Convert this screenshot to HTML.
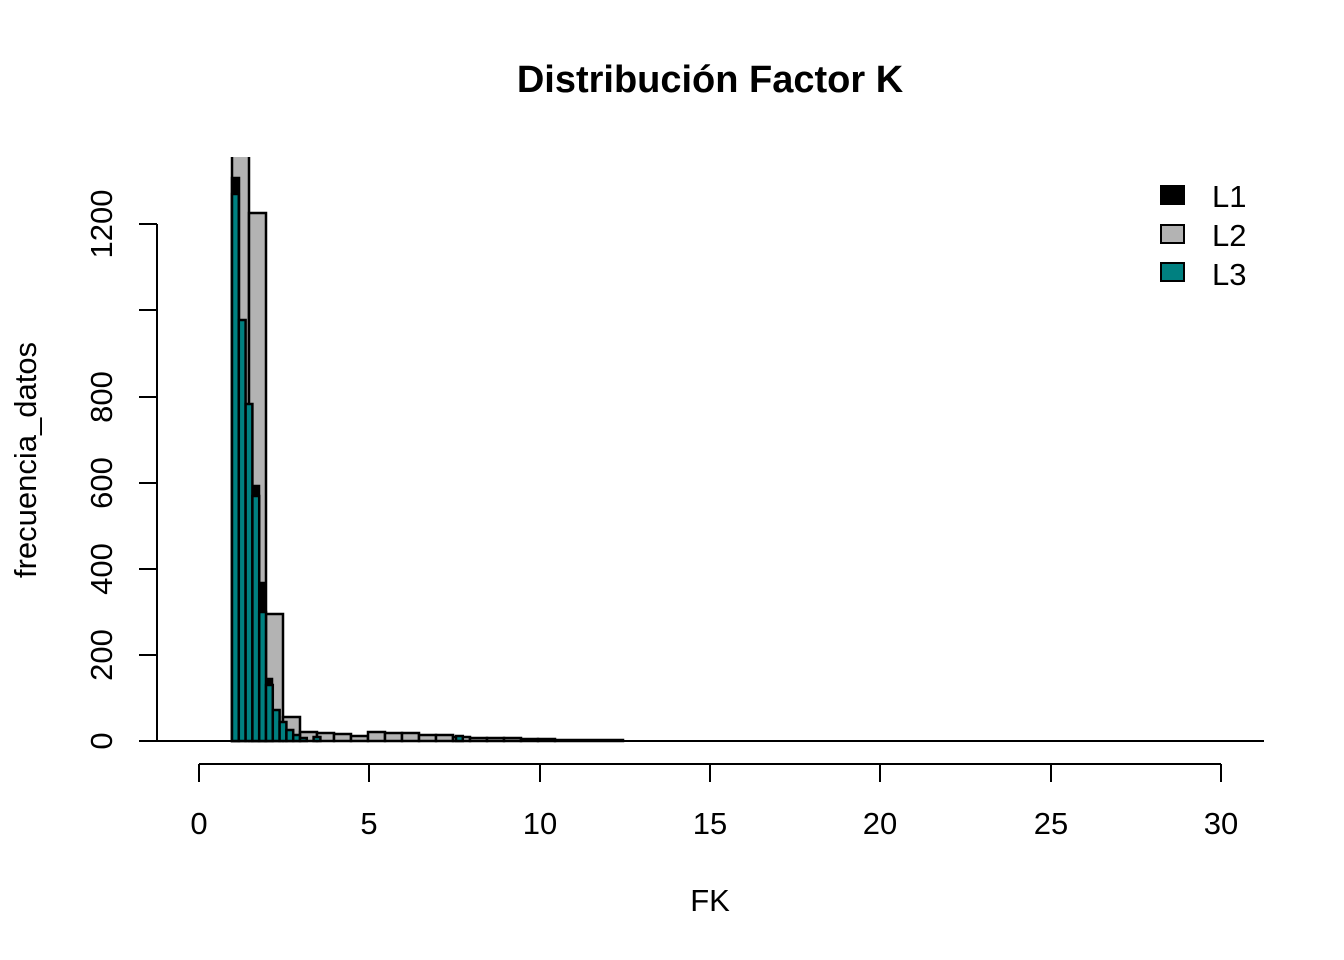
<!DOCTYPE html>
<html><head><meta charset="utf-8"><style>body{margin:0;background:#fff}svg{display:block}</style></head>
<body>
<svg width="1344" height="960" xmlns="http://www.w3.org/2000/svg" font-family="Liberation Sans, sans-serif">
<defs><clipPath id="c"><rect x="0" y="157" width="1344" height="700"/></clipPath></defs>
<text x="710" y="92" text-anchor="middle" font-size="38" font-weight="bold">Distribución Factor K</text>
<g stroke="#000" stroke-width="2.5" clip-path="url(#c)">
<g fill="#b3b3b3">
<rect x="232" y="140" width="17" height="601"/>
<rect x="249" y="213" width="17" height="528"/>
<rect x="266" y="614" width="17" height="127"/>
<rect x="283" y="717" width="17" height="24"/>
<rect x="300" y="732" width="17" height="9"/>
<rect x="317" y="733" width="17" height="8"/>
<rect x="334" y="734" width="17" height="7"/>
<rect x="351" y="736" width="17" height="5"/>
<rect x="368" y="732" width="17" height="9"/>
<rect x="385" y="733" width="17" height="8"/>
<rect x="402" y="733" width="17" height="8"/>
<rect x="419" y="735" width="17" height="6"/>
<rect x="436" y="735" width="17" height="6"/>
<rect x="453" y="737" width="17" height="4"/>
<rect x="470" y="738" width="17" height="3"/>
<rect x="487" y="738" width="17" height="3"/>
<rect x="504" y="738" width="17" height="3"/>
<rect x="521" y="739" width="17" height="2"/>
<rect x="538" y="739" width="17" height="2"/>
<rect x="555" y="740" width="68" height="1"/>
</g>
<g fill="#000">
<rect x="232" y="178" width="7" height="563"/>
<rect x="252" y="486" width="7" height="255"/>
<rect x="259" y="583" width="6" height="158"/>
<rect x="265" y="679" width="7" height="62"/>
</g>
<g fill="#008080">
<rect x="232" y="194" width="6.8" height="547"/>
<rect x="238.8" y="320" width="6.8" height="421"/>
<rect x="245.6" y="404" width="6.8" height="337"/>
<rect x="252.4" y="496" width="6.8" height="245"/>
<rect x="259.2" y="612" width="6.8" height="129"/>
<rect x="266" y="685" width="6.8" height="56"/>
<rect x="272.8" y="710" width="6.8" height="31"/>
<rect x="279.6" y="722" width="6.8" height="19"/>
<rect x="286.4" y="730" width="6.8" height="11"/>
<rect x="293.2" y="735" width="6.8" height="6"/>
<rect x="300" y="738" width="6.8" height="3"/>
<rect x="313.6" y="737" width="6.8" height="4"/>
<rect x="456" y="736" width="6.8" height="5"/>
</g>
</g>
<line x1="157" y1="741" x2="1264" y2="741" stroke="#000" stroke-width="2"/>
<g stroke="#000" stroke-width="2">
<line x1="157" y1="224" x2="157" y2="741"/>
<line x1="139" y1="741" x2="157" y2="741"/>
<line x1="139" y1="655" x2="157" y2="655"/>
<line x1="139" y1="569" x2="157" y2="569"/>
<line x1="139" y1="483" x2="157" y2="483"/>
<line x1="139" y1="397" x2="157" y2="397"/>
<line x1="139" y1="310" x2="157" y2="310"/>
<line x1="139" y1="224" x2="157" y2="224"/>
</g>
<g font-size="31" text-anchor="middle">
<text transform="translate(112,741) rotate(-90)">0</text>
<text transform="translate(112,655) rotate(-90)">200</text>
<text transform="translate(112,569) rotate(-90)">400</text>
<text transform="translate(112,483) rotate(-90)">600</text>
<text transform="translate(112,397) rotate(-90)">800</text>
<text transform="translate(112,224) rotate(-90)">1200</text>
<text transform="translate(36,460) rotate(-90)">frecuencia_datos</text>
</g>
<g stroke="#000" stroke-width="2">
<line x1="199" y1="764" x2="1221" y2="764"/>
<line x1="199" y1="764" x2="199" y2="782"/>
<line x1="369" y1="764" x2="369" y2="782"/>
<line x1="540" y1="764" x2="540" y2="782"/>
<line x1="710" y1="764" x2="710" y2="782"/>
<line x1="880" y1="764" x2="880" y2="782"/>
<line x1="1051" y1="764" x2="1051" y2="782"/>
<line x1="1221" y1="764" x2="1221" y2="782"/>
</g>
<g font-size="31" text-anchor="middle">
<text x="199" y="834">0</text><text x="369" y="834">5</text><text x="540" y="834">10</text>
<text x="710" y="834">15</text><text x="880" y="834">20</text><text x="1051" y="834">25</text>
<text x="1221" y="834">30</text>
<text x="710" y="911">FK</text>
</g>
<g stroke="#000" stroke-width="2">
<rect x="1161" y="186" width="23" height="18" fill="#000"/>
<rect x="1161" y="225" width="23" height="18" fill="#b3b3b3"/>
<rect x="1161" y="263" width="23" height="18" fill="#008080"/>
</g>
<g font-size="31">
<text x="1212" y="207">L1</text><text x="1212" y="246">L2</text><text x="1212" y="285">L3</text>
</g>
</svg>
</body></html>
